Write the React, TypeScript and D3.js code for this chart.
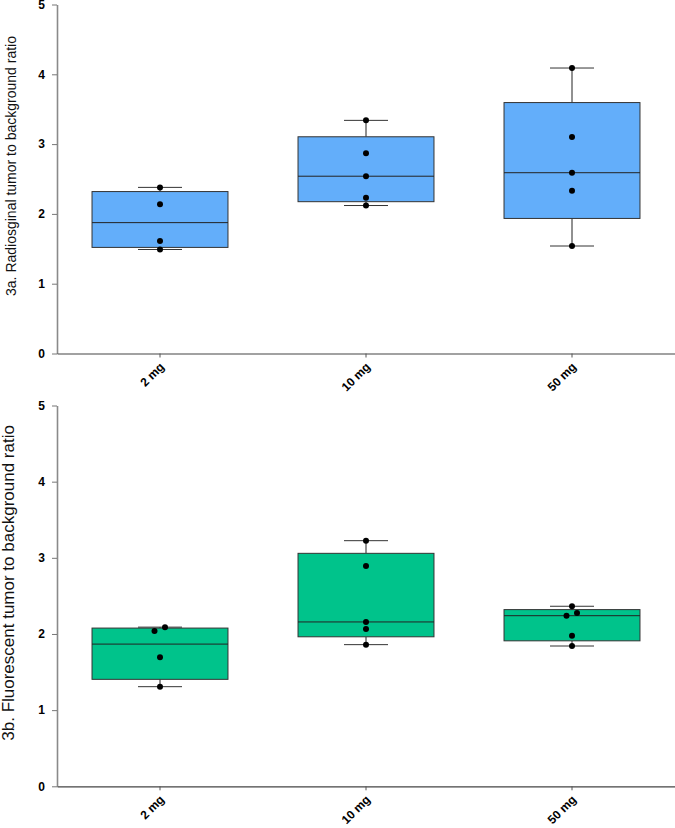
import React, { useEffect, useRef } from "react";
import * as d3 from "d3";

const categories = ["2 mg", "10 mg", "50 mg"];
const yTicks = [0, 1, 2, 3, 4, 5];

// individual animals, per dose
const radioValues = [
  [2.38, 2.14, 1.61, 1.49],
  [3.34, 2.87, 2.54, 2.23, 2.12],
  [4.09, 3.1, 2.59, 2.33, 1.54],
];
const fluorValues = [
  [2.09, 2.04, 1.694, 1.308],
  [3.225, 2.893, 2.158, 2.066, 1.86],
  [2.364, 2.276, 2.24, 1.978, 1.842],
];

const W = 675;
const H = 828;
const FONT = "Arial, 'Liberation Sans', sans-serif";

// (n+1)p percentile, same as the plotting package
function pct(sorted: number[], p: number) {
  const pos = (sorted.length + 1) * p;
  const lo = Math.max(1, Math.min(sorted.length, Math.floor(pos)));
  const hi = Math.min(sorted.length, lo + 1);
  const f = pos - Math.floor(pos);
  return sorted[lo - 1] + (sorted[hi - 1] - sorted[lo - 1]) * f;
}

function drawPanel(
  svg: d3.Selection<SVGSVGElement, unknown, null, undefined>,
  values: number[][],
  opts: {
    top: number;
    bottom: number;
    fill: string;
    title: string;
    titleX: number;
    titleSize: number;
  }
) {
  const left = 57;
  const right = 675;

  const x = d3.scaleBand<string>().domain(categories).range([left, right]);
  const y = d3.scaleLinear().domain([0, 5]).range([opts.bottom, opts.top]);

  const g = svg.append("g");

  // y axis
  const ya = g
    .append("g")
    .attr("transform", `translate(${left},0)`)
    .call(d3.axisLeft(y).tickValues(yTicks).tickSize(5).tickSizeOuter(0).tickPadding(7).tickFormat(d3.format("d")));
  ya.select(".domain").attr("stroke", "#8a8a8a").attr("stroke-width", 1.6);
  ya.selectAll(".tick line").attr("stroke", "#777");
  ya.selectAll(".tick text")
    .attr("font-family", FONT)
    .attr("font-weight", "bold")
    .attr("font-size", 12)
    .attr("fill", "#000");

  // x axis
  const xa = g
    .append("g")
    .attr("transform", `translate(0,${opts.bottom})`)
    .call(d3.axisBottom(x).tickSize(4).tickSizeOuter(0));
  xa.select(".domain").attr("stroke", "#444").attr("stroke-width", 1.2);
  xa.selectAll(".tick line").attr("stroke", "#555");
  xa.selectAll(".tick text")
    .attr("font-family", FONT)
    .attr("font-weight", "bold")
    .attr("font-size", 12)
    .attr("fill", "#000")
    .attr("text-anchor", "end")
    .attr("dy", null)
    .attr("y", 0)
    .attr("transform", "translate(5,14) rotate(-45)");

  const boxW = x.bandwidth() * 0.66;
  const capW = 44;

  values.forEach((vals, i) => {
    const cx = (x(categories[i]) as number) + x.bandwidth() / 2;
    const s = [...vals].sort(d3.ascending);
    const q1 = pct(s, 0.25);
    const q3 = pct(s, 0.75);
    const med = d3.median(s) as number;
    const lo = s[0];
    const hi = s[s.length - 1];

    const bg = g.append("g");
    bg.append("line")
      .attr("x1", cx).attr("x2", cx)
      .attr("y1", y(hi)).attr("y2", y(q3))
      .attr("stroke", "#222");
    bg.append("line")
      .attr("x1", cx).attr("x2", cx)
      .attr("y1", y(q1)).attr("y2", y(lo))
      .attr("stroke", "#222");
    [hi, lo].forEach((v) => {
      bg.append("line")
        .attr("x1", cx - capW / 2).attr("x2", cx + capW / 2)
        .attr("y1", y(v)).attr("y2", y(v))
        .attr("stroke", "#333");
    });
    bg.append("rect")
      .attr("x", cx - boxW / 2)
      .attr("y", y(q3))
      .attr("width", boxW)
      .attr("height", y(q1) - y(q3))
      .attr("fill", opts.fill)
      .attr("stroke", "#333")
      .attr("stroke-width", 1);
    bg.append("line")
      .attr("x1", cx - boxW / 2).attr("x2", cx + boxW / 2)
      .attr("y1", y(med)).attr("y2", y(med))
      .attr("stroke", "#222");

    // simple jitter: pairs of points closer than 5px get pushed apart
    const desc = [...vals].sort(d3.descending);
    const offs = desc.map(() => 0);
    for (let k = 1; k < desc.length; k++) {
      if (offs[k - 1] === 0 && y(desc[k]) - y(desc[k - 1]) < 5) {
        offs[k - 1] = 5;
        offs[k] = -5.5;
      }
    }
    bg.selectAll("circle")
      .data(desc)
      .enter()
      .append("circle")
      .attr("cx", (_d, k) => cx + offs[k])
      .attr("cy", (d) => y(d))
      .attr("r", 3)
      .attr("fill", "#000");
  });

  g.append("text")
    .attr("transform", `translate(${opts.titleX},${(opts.top + opts.bottom) / 2 - 13}) rotate(-90)`)
    .attr("text-anchor", "middle")
    .attr("font-family", FONT)
    .attr("font-size", opts.titleSize)
    .attr("fill", "#111")
    .text(opts.title);
}

export default function App() {
  const svgRef = useRef<SVGSVGElement>(null);

  useEffect(() => {
    const svg = d3.select(svgRef.current as SVGSVGElement);
    svg.selectAll("*").remove();
    svg.attr("width", W).attr("height", H);

    drawPanel(svg, radioValues, {
      top: 4.5,
      bottom: 353.5,
      fill: "#63aefa",
      title: "3a. Radiosginal tumor to background ratio",
      titleX: 16,
      titleSize: 14,
    });
    drawPanel(svg, fluorValues, {
      top: 405.5,
      bottom: 786.3,
      fill: "#00c38b",
      title: "3b. Fluorescent tumor to background ratio",
      titleX: 14,
      titleSize: 17,
    });
  }, []);

  return (
    <svg
      ref={svgRef}
      style={{ position: "absolute", left: 0, top: 0, background: "#fff" }}
    ></svg>
  );
}
